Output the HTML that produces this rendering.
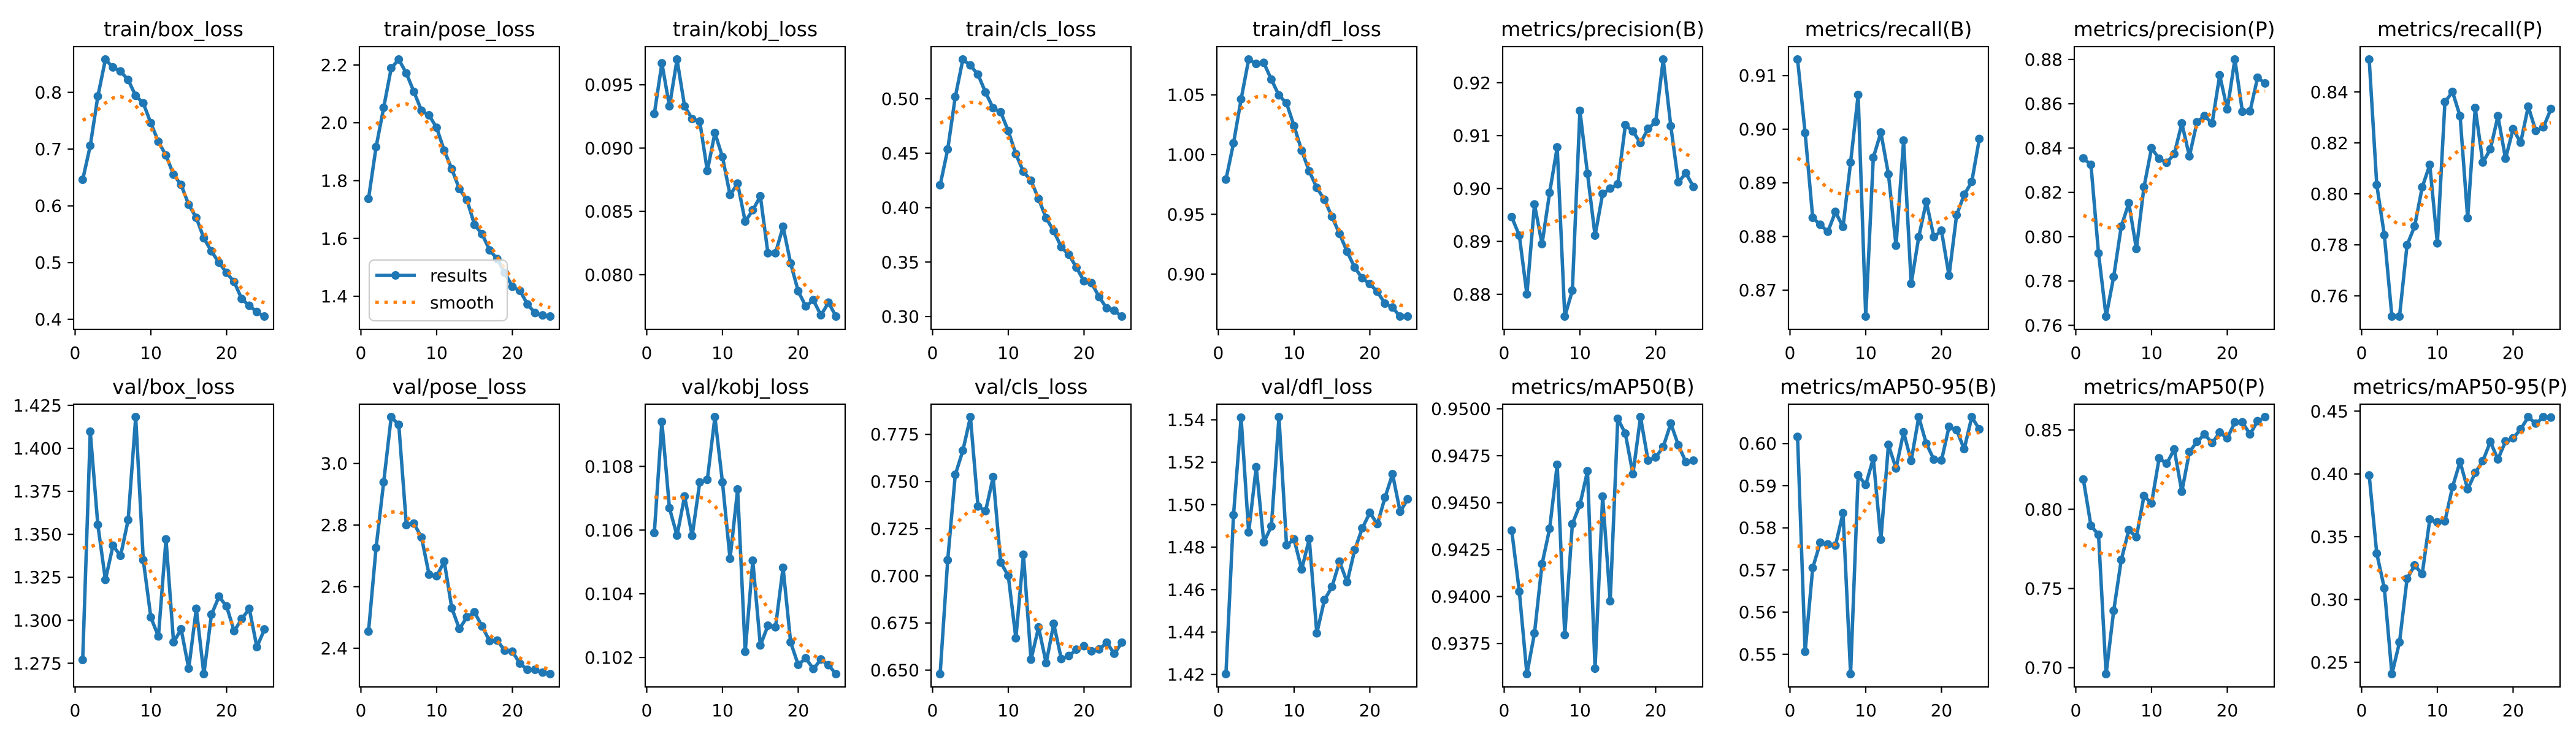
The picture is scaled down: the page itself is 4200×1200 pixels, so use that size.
<!DOCTYPE html>
<html>
<head>
<meta charset="utf-8">
<style>
  html,body{margin:0;padding:0;background:#fff;}
  #fig{display:block;}
  text{font-family:"DejaVu Sans","Liberation Sans",sans-serif;fill:#000;}
</style>
</head>
<body>
<svg id="fig" xmlns="http://www.w3.org/2000/svg" width="4200" height="1200" viewBox="0 0 4200 1200">
<rect width="4200" height="1200" fill="#fff"/>
</svg>
<script>
// ---- data (epochs 1..25) ----
const epochs = [1,2,3,4,5,6,7,8,9,10,11,12,13,14,15,16,17,18,19,20,21,22,23,24,25];
const xTickValues = [0,10,20];
const xTickLabels = ["0","10","20"];

const trainBoxLoss = [0.646,0.706,0.793,0.858,0.844,0.837,0.822,0.794,0.781,0.746,0.713,0.689,0.655,0.637,0.602,0.579,0.543,0.520,0.500,0.482,0.466,0.436,0.424,0.413,0.405];
const trainPoseLoss = [1.737,1.916,2.052,2.189,2.219,2.171,2.107,2.042,2.026,1.983,1.904,1.840,1.771,1.733,1.647,1.615,1.559,1.529,1.481,1.433,1.419,1.372,1.342,1.334,1.330];
const trainKobjLoss = [0.0927,0.0967,0.0933,0.0970,0.0933,0.0923,0.0921,0.0882,0.0912,0.0893,0.0863,0.0872,0.0842,0.0851,0.0862,0.0817,0.0817,0.0838,0.0809,0.0787,0.0775,0.0780,0.0768,0.0778,0.0767];
const trainClsLoss = [0.4206,0.4535,0.5017,0.5361,0.5307,0.5223,0.5058,0.4914,0.4877,0.4704,0.4492,0.4330,0.4248,0.4081,0.3904,0.3785,0.3638,0.3568,0.3450,0.3324,0.3307,0.3179,0.3076,0.3054,0.3000];
const trainDflLoss = [0.9791,1.0095,1.0463,1.0796,1.0759,1.0768,1.0628,1.0496,1.0431,1.0239,1.0033,0.9861,0.9722,0.9623,0.9480,0.9337,0.9188,0.9055,0.8966,0.8917,0.8852,0.8753,0.8720,0.8645,0.8645];
const precisionB = [0.8946,0.8911,0.8800,0.8970,0.8895,0.8992,0.9078,0.8758,0.8807,0.9147,0.9028,0.8911,0.8990,0.9000,0.9008,0.9120,0.9108,0.9086,0.9113,0.9126,0.9244,0.9118,0.9012,0.9029,0.9003];
const recallB = [0.9130,0.8993,0.8835,0.8822,0.8809,0.8846,0.8818,0.8938,0.9064,0.8651,0.8947,0.8994,0.8916,0.8783,0.8979,0.8712,0.8799,0.8865,0.8799,0.8811,0.8727,0.8840,0.8878,0.8902,0.8982];
const precisionP = [0.8354,0.8325,0.7925,0.7640,0.7819,0.8046,0.8152,0.7945,0.8224,0.8400,0.8352,0.8334,0.8373,0.8512,0.8363,0.8517,0.8545,0.8512,0.8729,0.8575,0.8800,0.8564,0.8566,0.8718,0.8692];
const recallP = [0.8527,0.8035,0.7838,0.7519,0.7519,0.7799,0.7873,0.8026,0.8114,0.7806,0.8360,0.8400,0.8305,0.7905,0.8337,0.8123,0.8175,0.8305,0.8138,0.8254,0.8201,0.8342,0.8247,0.8261,0.8333];
const valBoxLoss = [1.2769,1.4097,1.3555,1.3235,1.3434,1.3375,1.3583,1.4182,1.3350,1.3017,1.2906,1.3471,1.2872,1.2948,1.2719,1.3067,1.2687,1.3033,1.3138,1.3081,1.2937,1.3008,1.3067,1.2844,1.2947];
const valPoseLoss = [2.454,2.726,2.939,3.151,3.126,2.800,2.805,2.760,2.639,2.634,2.682,2.530,2.463,2.501,2.517,2.471,2.423,2.425,2.392,2.389,2.350,2.330,2.330,2.321,2.316];
const valKobjLoss = [0.10591,0.10940,0.10669,0.10583,0.10706,0.10582,0.10750,0.10758,0.10955,0.10750,0.10510,0.10728,0.10218,0.10504,0.10238,0.10300,0.10295,0.10482,0.10248,0.10177,0.10198,0.10164,0.10194,0.10176,0.10148];
const valClsLoss = [0.6479,0.7083,0.7536,0.7664,0.7842,0.7368,0.7343,0.7524,0.7071,0.7000,0.6669,0.7112,0.6556,0.6727,0.6537,0.6746,0.6559,0.6575,0.6609,0.6627,0.6600,0.6610,0.6646,0.6587,0.6646];
const valDflLoss = [1.4202,1.4951,1.5410,1.4870,1.5177,1.4823,1.4898,1.5413,1.4809,1.4837,1.4695,1.4839,1.4394,1.4551,1.4613,1.4732,1.4635,1.4787,1.4889,1.4962,1.4909,1.5034,1.5144,1.4967,1.5026];
const mAP50B = [0.94351,0.94026,0.93587,0.93804,0.94173,0.94361,0.94702,0.93795,0.94386,0.94489,0.94668,0.93616,0.94533,0.93975,0.94947,0.94868,0.94652,0.94956,0.94724,0.94741,0.94797,0.94922,0.94806,0.94716,0.94724];
const mAP5095B = [0.6016,0.5506,0.5705,0.5765,0.5761,0.5758,0.5835,0.5453,0.5925,0.5902,0.5965,0.5772,0.5997,0.5941,0.6027,0.5959,0.6063,0.6000,0.5962,0.5960,0.6040,0.6032,0.5987,0.6063,0.6034];
const mAP50P = [0.8188,0.7896,0.7839,0.6960,0.7359,0.7680,0.7869,0.7824,0.8084,0.8037,0.8322,0.8288,0.8378,0.8111,0.8362,0.8426,0.8473,0.8418,0.8485,0.8448,0.8549,0.8549,0.8473,0.8556,0.8582];
const mAP5095P = [0.3988,0.3366,0.3089,0.2406,0.2659,0.3165,0.3272,0.3203,0.3638,0.3615,0.3623,0.3896,0.4097,0.3878,0.4009,0.4103,0.4256,0.4116,0.4260,0.4284,0.4356,0.4453,0.4401,0.4453,0.4449];

// tick values / labels per chart
const ticksTrainBox = [0.4,0.5,0.6,0.7,0.8];            const labelsTrainBox = ["0.4","0.5","0.6","0.7","0.8"];
const ticksTrainPose = [1.4,1.6,1.8,2.0,2.2];           const labelsTrainPose = ["1.4","1.6","1.8","2.0","2.2"];
const ticksTrainKobj = [0.080,0.085,0.090,0.095];       const labelsTrainKobj = ["0.080","0.085","0.090","0.095"];
const ticksTrainCls = [0.30,0.35,0.40,0.45,0.50];       const labelsTrainCls = ["0.30","0.35","0.40","0.45","0.50"];
const ticksTrainDfl = [0.90,0.95,1.00,1.05];            const labelsTrainDfl = ["0.90","0.95","1.00","1.05"];
const ticksPrecB = [0.88,0.89,0.90,0.91,0.92];          const labelsPrecB = ["0.88","0.89","0.90","0.91","0.92"];
const ticksRecB = [0.87,0.88,0.89,0.90,0.91];           const labelsRecB = ["0.87","0.88","0.89","0.90","0.91"];
const ticksPrecP = [0.76,0.78,0.80,0.82,0.84,0.86,0.88]; const labelsPrecP = ["0.76","0.78","0.80","0.82","0.84","0.86","0.88"];
const ticksRecP = [0.76,0.78,0.80,0.82,0.84];           const labelsRecP = ["0.76","0.78","0.80","0.82","0.84"];
const ticksValBox = [1.275,1.300,1.325,1.350,1.375,1.400,1.425]; const labelsValBox = ["1.275","1.300","1.325","1.350","1.375","1.400","1.425"];
const ticksValPose = [2.4,2.6,2.8,3.0];                 const labelsValPose = ["2.4","2.6","2.8","3.0"];
const ticksValKobj = [0.102,0.104,0.106,0.108];         const labelsValKobj = ["0.102","0.104","0.106","0.108"];
const ticksValCls = [0.650,0.675,0.700,0.725,0.750,0.775]; const labelsValCls = ["0.650","0.675","0.700","0.725","0.750","0.775"];
const ticksValDfl = [1.42,1.44,1.46,1.48,1.50,1.52,1.54]; const labelsValDfl = ["1.42","1.44","1.46","1.48","1.50","1.52","1.54"];
const ticksMap50B = [0.9375,0.9400,0.9425,0.9450,0.9475,0.9500]; const labelsMap50B = ["0.9375","0.9400","0.9425","0.9450","0.9475","0.9500"];
const ticksMap5095B = [0.55,0.56,0.57,0.58,0.59,0.60];  const labelsMap5095B = ["0.55","0.56","0.57","0.58","0.59","0.60"];
const ticksMap50P = [0.70,0.75,0.80,0.85];              const labelsMap50P = ["0.70","0.75","0.80","0.85"];
const ticksMap5095P = [0.25,0.30,0.35,0.40,0.45];       const labelsMap5095P = ["0.25","0.30","0.35","0.40","0.45"];

const chartTitles = ["train/box_loss","train/pose_loss","train/kobj_loss","train/cls_loss","train/dfl_loss","metrics/precision(B)","metrics/recall(B)","metrics/precision(P)","metrics/recall(P)",
  "val/box_loss","val/pose_loss","val/kobj_loss","val/cls_loss","val/dfl_loss","metrics/mAP50(B)","metrics/mAP50-95(B)","metrics/mAP50(P)","metrics/mAP50-95(P)"];
const chartSeries = [trainBoxLoss,trainPoseLoss,trainKobjLoss,trainClsLoss,trainDflLoss,precisionB,recallB,precisionP,recallP,
  valBoxLoss,valPoseLoss,valKobjLoss,valClsLoss,valDflLoss,mAP50B,mAP5095B,mAP50P,mAP5095P];
const chartTicks = [ticksTrainBox,ticksTrainPose,ticksTrainKobj,ticksTrainCls,ticksTrainDfl,ticksPrecB,ticksRecB,ticksPrecP,ticksRecP,
  ticksValBox,ticksValPose,ticksValKobj,ticksValCls,ticksValDfl,ticksMap50B,ticksMap5095B,ticksMap50P,ticksMap5095P];
const chartTickLabels = [labelsTrainBox,labelsTrainPose,labelsTrainKobj,labelsTrainCls,labelsTrainDfl,labelsPrecB,labelsRecB,labelsPrecP,labelsRecP,
  labelsValBox,labelsValPose,labelsValKobj,labelsValCls,labelsValDfl,labelsMap50B,labelsMap5095B,labelsMap50P,labelsMap5095P];

// ---- drawing ----
const NS = "http://www.w3.org/2000/svg";
const svg = document.getElementById("fig");
const BLUE = "#1f77b4", ORANGE = "#ff7f0e";

function mk(tag, attrs, parent){
  const e = document.createElementNS(NS, tag);
  for (const k in attrs) e.setAttribute(k, attrs[k]);
  (parent || svg).appendChild(e);
  return e;
}

function gaussSmooth(y){
  const sigma = 3, r = 12, n = y.length, w = [];
  let s = 0;
  for (let k = -r; k <= r; k++){ const v = Math.exp(-0.5*k*k/(sigma*sigma)); w.push(v); s += v; }
  const out = [];
  for (let i = 0; i < n; i++){
    let acc = 0;
    for (let k = -r; k <= r; k++){
      let j = i + k;
      while (j < 0 || j >= n){ if (j < 0) j = -j - 1; if (j >= n) j = 2*n - j - 1; }
      acc += w[k + r] * y[j];
    }
    out.push(acc / s);
  }
  return out;
}

const AX_W = 326, AX_H = 461;
const colLeft = i => 120 + i*466;
const rowTop = [76, 659];

chartTitles.forEach((title, idx) => {
  const row = idx < 9 ? 0 : 1, col = idx % 9;
  const L = colLeft(col), T = rowTop[row], R = L + AX_W, B = T + AX_H;
  const y = chartSeries[idx];
  const sm = gaussSmooth(y);
  const all = y.concat(sm);
  let mn = Math.min(...all), mx = Math.max(...all);
  const pad = (mx - mn) * 0.05; mn -= pad; mx += pad;
  const xmin = epochs[0] - 0.05*(epochs[epochs.length-1]-epochs[0]);
  const xmax = epochs[epochs.length-1] + 0.05*(epochs[epochs.length-1]-epochs[0]);
  const sx = v => L + (v - xmin)/(xmax - xmin)*AX_W;
  const sy = v => B - (v - mn)/(mx - mn)*AX_H;

  const g = mk("g", {});
  
  

  const clipId = "clip" + idx;
  const cp = mk("clipPath", {id: clipId}, g);
  mk("rect", {x: L, y: T, width: AX_W, height: AX_H}, cp);

  // title
  const tt = mk("text", {x: L + AX_W/2, y: T - 17, "font-size": 33, "text-anchor": "middle"}, g);
  tt.textContent = title;
  
  

  // y ticks
  chartTicks[idx].forEach((tv, k) => {
    const py = sy(tv);
    mk("line", {x1: L - 9.7, x2: L, y1: py, y2: py, stroke: "#000", "stroke-width": 2.2}, g);
    const lt = mk("text", {x: L - 19, y: py + 10, "font-size": 28, "text-anchor": "end"}, g);
    lt.textContent = chartTickLabels[idx][k];
    
    
  });
  // x ticks
  xTickValues.forEach((tv, k) => {
    const px = sx(tv);
    mk("line", {x1: px, x2: px, y1: B, y2: B + 9.7, stroke: "#000", "stroke-width": 2.2}, g);
    const lt = mk("text", {x: px, y: B + 48, "font-size": 28, "text-anchor": "middle"}, g);
    lt.textContent = xTickLabels[k];
    
    
  });

  // results line
  const pts = epochs.map((e, i) => sx(e).toFixed(2) + "," + sy(y[i]).toFixed(2)).join(" ");
  const pl = mk("polyline", {points: pts, fill: "none", stroke: BLUE, "stroke-width": 5.6, "stroke-linejoin": "round", "stroke-linecap": "square", "clip-path": "url(#" + clipId + ")"}, g);
  
  
  epochs.forEach((e, i) => {
    const c = mk("circle", {cx: sx(e), cy: sy(y[i]), r: 5.6, fill: BLUE, stroke: BLUE, "stroke-width": 2.8}, g);
    
    
  });
  // smooth line
  const spts = epochs.map((e, i) => sx(e).toFixed(2) + "," + sy(sm[i]).toFixed(2)).join(" ");
  const sl = mk("polyline", {points: spts, fill: "none", stroke: ORANGE, "stroke-width": 5.6, "stroke-dasharray": "5.6 9.2", "clip-path": "url(#" + clipId + ")"}, g);
  
  

  // spines
  const sp = mk("rect", {x: L, y: T, width: AX_W, height: AX_H, fill: "none", stroke: "#000", "stroke-width": 2.2}, g);
  
  

  // legend in second subplot
  if (idx === 1){
    const lg = mk("g", {}, g);
    
    
    mk("rect", {x: L + 16, y: B - 113, width: 225, height: 99, rx: 8, fill: "#fff", "fill-opacity": 0.8, stroke: "#cccccc", "stroke-width": 2.2}, lg);
    const ly1 = B - 88, ly2 = B - 44;
    mk("line", {x1: L + 26, x2: L + 92, y1: ly1, y2: ly1, stroke: BLUE, "stroke-width": 5.6}, lg);
    mk("circle", {cx: L + 59, cy: ly1, r: 5.6, fill: BLUE, stroke: BLUE, "stroke-width": 2.8}, lg);
    const t1 = mk("text", {x: L + 115, y: ly1 + 10, "font-size": 28}, lg);
    t1.textContent = "results";
    
    
    mk("line", {x1: L + 26, x2: L + 92, y1: ly2, y2: ly2, stroke: ORANGE, "stroke-width": 5.6, "stroke-dasharray": "5.6 9.2"}, lg);
    const t2 = mk("text", {x: L + 115, y: ly2 + 10, "font-size": 28}, lg);
    t2.textContent = "smooth";
    
    
  }
});
</script>
</body>
</html>
